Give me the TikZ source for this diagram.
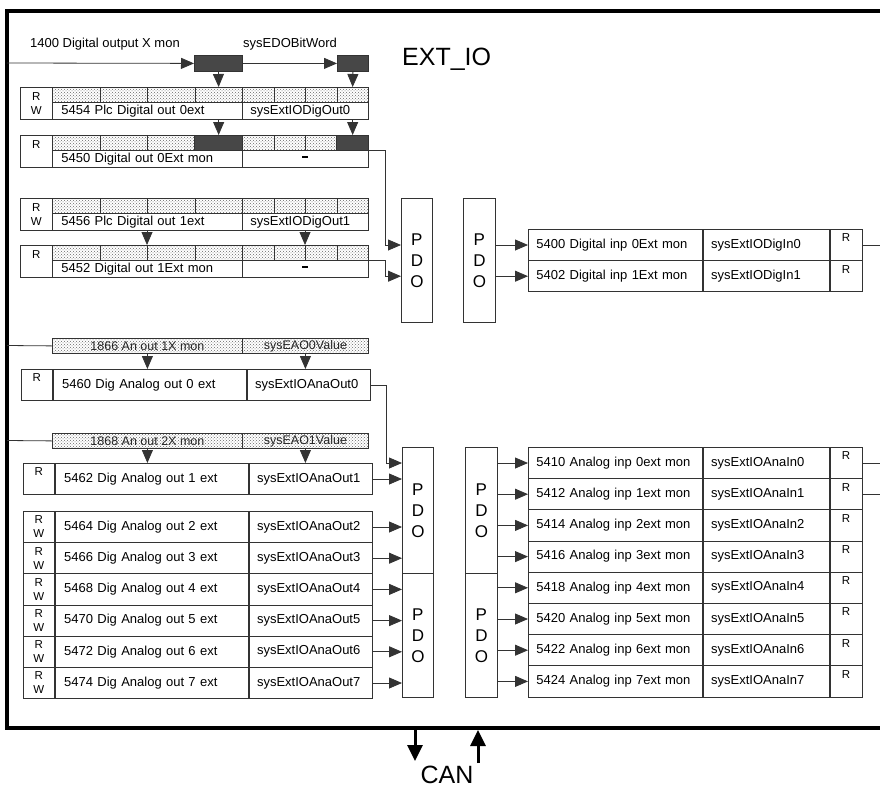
\documentclass[tikz,border=0pt]{standalone}
\usepackage{fontspec}
\setmainfont{Liberation Sans}
\usetikzlibrary{arrows.meta,patterns}

% digital output register: id, top, R/W text, name, variable
\newcommand{\digreg}[5]{%
  \node[rwbox, minimum width=32pt, minimum height=32pt] (#1-rw) at (20,#2) {#3};
  \foreach \k/\xa/\w in {1/52/47.5,2/99.5/47.5,3/147/47.5,4/194.5/47.5,5/242/31.5,6/273.5/31.5,7/305/31.5,8/336.5/31.5}
    \node[bitcell, minimum width=\w pt] (#1-c\k) at (\xa,#2) {};
  \node[txtcell, minimum height=17pt, text width=172pt] (#1-name) at (52,#2+15) {#4};
  \node[txtcell, minimum height=17pt, text width=110pt, inner xsep=8pt] (#1-var) at (242,#2+15) {#5};
}
% analog output register: id, x, top, R/W text, name, variable
\newcommand{\aoreg}[6]{%
  \node[rwbox, minimum width=31pt, minimum height=31.2pt] (#1-rw) at (#2,#3) {#4};
  \node[txtcell, minimum height=31.2pt, text width=175pt] (#1-name) at (#1-rw.north east) {#5};
  \node[txtcell, minimum height=31.2pt, text width=107pt, inner xsep=8pt] (#1-var) at (#1-name.north east) {#6};
}
% input register: id, top, name, variable
\newcommand{\inreg}[4]{%
  \node[txtcell, minimum height=31.2pt, text width=158pt, inner xsep=8pt] (#1-name) at (528,#2) {#3};
  \node[txtcell, minimum height=31.2pt, text width=110pt, inner xsep=8pt] (#1-var) at (#1-name.north east) {#4};
  \node[rwbox, minimum width=32pt, minimum height=31.2pt] (#1-r) at (#1-var.north east) {R\\\phantom{W}};
}
\newcommand{\nodash}{\makebox[110pt]{\rule[3pt]{6pt}{2pt}}}

\begin{document}
\begin{tikzpicture}[x=1pt,y=-1pt,
  wire/.style={draw=black!80, line width=0.8pt},
  arr/.style={wire, -{Triangle[length=13pt,width=11pt]}},
  frame/.style={draw=black, line width=3.5pt},
  canarr/.style={draw=black, line width=3pt, -{Triangle[length=16pt,width=15pt]}},
  plain/.style={inner sep=0pt, font=\fontsize{13}{15}\selectfont},
  rwbox/.style={wire, anchor=north west, inner sep=0pt, align=center, font=\fontsize{11.5}{14}\selectfont},
  txtcell/.style={wire, anchor=north west, inner ysep=0pt, inner xsep=9pt, align=left, font=\fontsize{13}{15}\selectfont},
  bitcell/.style={wire, anchor=north west, inner sep=0pt, minimum height=15pt, pattern=crosshatch dots, pattern color=black!60},
  darkbit/.style={wire, fill=black!72},
  barcell/.style={bitcell, text=black!85, font=\fontsize{12.5}{14}\selectfont},
  pdo/.style={wire, anchor=north west, inner sep=0pt, align=center, font=\fontsize{17}{21}\selectfont}]
\useasboundingbox (0,0) rectangle (880,787);

% frame and titles
\draw[frame] (880,11) -- (7,11) -- (7,728) -- (880,728);
\node[plain, font=\fontsize{25}{30}\selectfont, anchor=base west] (extio) at (402,65) {EXT\_IO};
\node[plain, anchor=base west] (xmon) at (30,47) {1400 Digital output X mon};
\node[plain, anchor=base west] (bitword) at (243,47) {sysEDOBitWord};
\coordinate (doin) at (7,63);
\coordinate (outR) at (880,0);

% digital outputs
\node[darkbit, anchor=north west, inner sep=0pt, minimum width=48pt, minimum height=16pt] (dobyte) at (194,55) {};
\node[darkbit, anchor=north west, inner sep=0pt, minimum width=31pt, minimum height=16pt] (dobit) at (337,55) {};
\digreg{dA}{87}{R\\W}{5454 Plc Digital out 0ext}{sysExtIODigOut0}
\digreg{dB}{135}{R\\\phantom{W}}{5450 Digital out 0Ext mon}{\nodash}
\digreg{dC}{198}{R\\W}{5456 Plc Digital out 1ext}{sysExtIODigOut1}
\digreg{dD}{245}{R\\\phantom{W}}{5452 Digital out 1Ext mon}{\nodash}
\path[darkbit] (dB-c4.north west) rectangle (dB-c4.south east);
\path[darkbit] (dB-c8.north west) rectangle (dB-c8.south east);

\draw[arr] (doin) -- (dobyte.west);
\draw[arr] (dobyte.east) -- (dobit.west);
\draw[arr] (dobyte.south) -- (dA-c4.north);
\draw[arr] (dobit.south) -- (dA-c8.north);
\draw[arr] (dA-c4 |- dA-name.south) -- (dB-c4.north);
\draw[arr] (dA-c8 |- dA-name.south) -- (dB-c8.north);
\draw[arr] (dC-c3.west |- dC-name.south) -- (dD-c3.north west);
\draw[arr] (dC-c7.west |- dC-name.south) -- (dD-c7.north west);

% PDO blocks
\node[pdo, minimum width=31pt, minimum height=124pt] (pdoA) at (401,198) {P\\D\\O};
\node[pdo, minimum width=32pt, minimum height=124pt] (pdoB) at (463,198) {P\\D\\O};
\node[pdo, minimum width=31pt, minimum height=126pt] (pdoC) at (402,447) {P\\D\\O};
\node[pdo, minimum width=31pt, minimum height=124pt] (pdoD) at (402,573) {P\\D\\O};
\node[pdo, minimum width=32pt, minimum height=126pt] (pdoE) at (465,447) {P\\D\\O};
\node[pdo, minimum width=32pt, minimum height=124pt] (pdoF) at (465,573) {P\\D\\O};

% digital inputs
\inreg{iA}{229}{5400 Digital inp 0Ext mon}{sysExtIODigIn0}
\inreg{iB}{260.2}{5402 Digital inp 1Ext mon}{sysExtIODigIn1}

\draw[arr] (dB-c8.south east) -- ++(17,0) |- (pdoA.west |- iA-name.west);
\draw[arr] (dD-c8.south east) -- ++(17,0) |- (pdoA.west |- iB-name.west);
\draw[arr] (pdoB.east |- iA-name.west) -- (iA-name.west);
\draw[arr] (pdoB.east |- iB-name.west) -- (iB-name.west);
\draw[wire] (iA-r.east) -- (iA-r.east -| outR);

% analog outputs
\node[barcell, minimum width=190pt] (bA-mon) at (52,338) {1866 An out 1X mon};
\node[barcell, minimum width=126pt] (bA-sys) at (242,338) {sysEAO0Value};
\node[barcell, minimum width=190pt] (bB-mon) at (52,433) {1868 An out 2X mon};
\node[barcell, minimum width=126pt] (bB-sys) at (242,433) {sysEAO1Value};
\coordinate (aoinA) at (7,345.5);
\coordinate (aoinB) at (7,440.5);
\draw[wire] (aoinA) -- (bA-mon.west);
\draw[wire] (aoinB) -- (bB-mon.west);

\aoreg{a0}{21}{369}{R\\\phantom{W}}{5460 Dig Analog out 0 ext}{sysExtIOAnaOut0}
\aoreg{a1}{23}{463}{R\\\phantom{W}}{5462 Dig Analog out 1 ext}{sysExtIOAnaOut1}
\foreach \i [evaluate=\i as \y using 511+31.2*(\i-2), evaluate=\i as \reg using int(5460+2*\i)] in {2,...,7}
  \aoreg{a\i}{23}{\y}{R\\W}{\reg\ Dig Analog out \i\ ext}{sysExtIOAnaOut\i};

\draw[arr] (bA-mon.south) -- (bA-mon.south |- a0-name.north);
\draw[arr] (bA-sys.south) -- (bA-sys.south |- a0-var.north);
\draw[arr] (bB-mon.south) -- (bB-mon.south |- a1-name.north);
\draw[arr] (bB-sys.south) -- (bB-sys.south |- a1-var.north);
\draw[arr] (a0-var.east) -- ++(16,0) |- ([yshift=-16pt]pdoC.north west);
\foreach \i in {1,...,7}
  \draw[arr] (a\i-var.east) -- (a\i-var.east -| pdoC.west);

% analog inputs
\foreach \i [evaluate=\i as \y using 447+31.2*\i, evaluate=\i as \reg using int(5410+2*\i)] in {0,...,7}
  \inreg{n\i}{\y}{\reg\ Analog inp \i ext mon}{sysExtIOAnaIn\i};
\foreach \i in {0,...,7}
  \draw[arr] (pdoE.east |- n\i-name.west) -- (n\i-name.west);
\foreach \i in {0,1}
  \draw[wire] (n\i-r.east) -- (n\i-r.east -| outR);

% CAN bus
\coordinate (canTx) at (415,728);
\coordinate (canRx) at (478,763);
\draw[canarr] (canTx) -- ++(0,33);
\draw[canarr] (canRx) -- ++(0,-33);
\node[plain, font=\fontsize{25}{30}\selectfont, anchor=base] (can) at (447,783) {CAN};
\end{tikzpicture}
\end{document}
